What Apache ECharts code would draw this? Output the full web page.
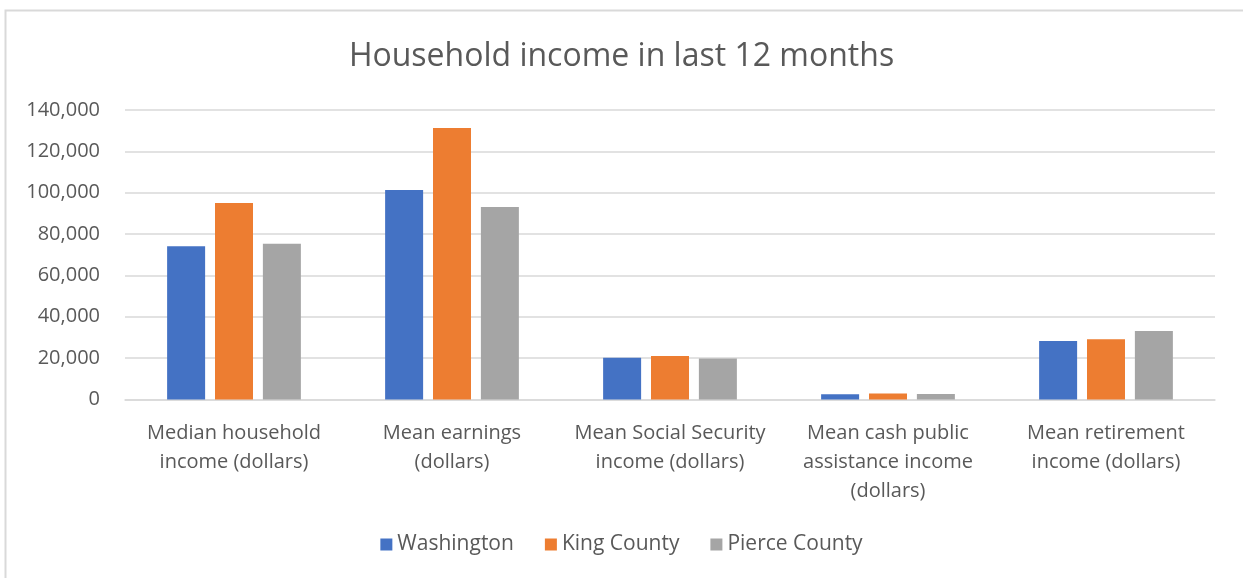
<!DOCTYPE html>
<html>
<head>
<meta charset="utf-8">
<script src="https://cdn.jsdelivr.net/npm/echarts@6/dist/echarts.min.js"></script>
<style>
html,body{margin:0;padding:0;background:#fff;}
#chart{width:1243px;height:578px;}
</style>
</head>
<body>
<div id="chart"></div>
<script>
const categories = [
  "Median household\nincome (dollars)",
  "Mean earnings\n(dollars)",
  "Mean Social Security\nincome (dollars)",
  "Mean cash public\nassistance income\n(dollars)",
  "Mean retirement\nincome (dollars)"
];
const seriesNames = ["Washington", "King County", "Pierce County"];
const washington = [74073, 101300, 20250, 2560, 28340];
const kingCounty = [94974, 131300, 21080, 2850, 29160];
const pierceCounty = [75300, 93100, 19780, 2700, 33170];
const colors = ["#4472C4", "#ED7D31", "#A5A5A5"];

const chart = echarts.init(document.getElementById('chart'));
const font = "'Open Sans', sans-serif";
const dataSets = [washington, kingCounty, pierceCounty];
chart.setOption({
  animation: false,
  textStyle: { fontFamily: font },
  graphic: [{
    type: 'rect',
    shape: { x: 5.5, y: 10.5, width: 1400, height: 800 },
    style: { fill: 'none', stroke: '#D9D9D9', lineWidth: 2 },
    silent: true
  }],
  title: {
    text: 'Household income in last 12 months',
    left: 'center',
    top: 36,
    textStyle: { fontFamily: font, fontSize: 32, fontWeight: 'normal', color: '#595959' }
  },
  legend: {
    data: seriesNames,
    bottom: 18,
    left: 'center',
    itemWidth: 12,
    itemHeight: 12,
    itemGap: 31,
    icon: 'rect',
    textStyle: { fontFamily: font, fontSize: 21, color: '#595959' }
  },
  grid: { left: 125, right: 28, top: 110, bottom: 178.5, containLabel: false },
  xAxis: {
    type: 'category',
    data: categories,
    axisLine: { lineStyle: { color: '#D9D9D9', width: 1.5 } },
    axisTick: { show: false },
    axisLabel: { fontFamily: font, fontSize: 20, color: '#595959', lineHeight: 29, margin: 19, interval: 0 }
  },
  yAxis: {
    type: 'value',
    min: 0,
    max: 140000,
    interval: 20000,
    axisLine: { show: false },
    axisTick: { show: false },
    splitLine: { lineStyle: { color: '#D9D9D9', width: 1.5 } },
    axisLabel: {
      fontFamily: font, fontSize: 20, color: '#595959', margin: 25,
      formatter: v => v.toLocaleString('en-US')
    }
  },
  series: seriesNames.map((name, i) => ({
    name: name,
    type: 'bar',
    data: dataSets[i],
    barWidth: 38,
    barGap: '26%',
    itemStyle: { color: colors[i] }
  }))
});
</script>
</body>
</html>
